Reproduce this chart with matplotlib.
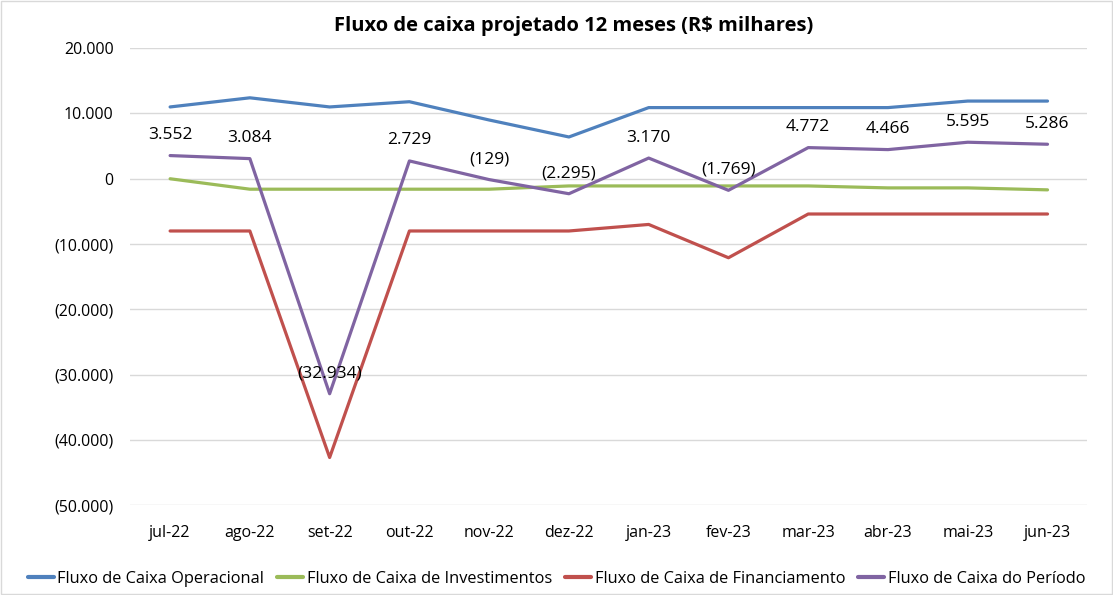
import matplotlib
matplotlib.use("Agg")
import matplotlib.pyplot as plt
from matplotlib.ticker import FuncFormatter

months = ["jul-22", "ago-22", "set-22", "out-22", "nov-22", "dez-22",
          "jan-23", "fev-23", "mar-23", "abr-23", "mai-23", "jun-23"]
operacional = [11.0, 12.4, 11.0, 11.8, 9.0, 6.4, 10.9, 10.9, 10.9, 10.9, 11.9, 11.9]
investimentos = [0.0, -1.6, -1.6, -1.6, -1.6, -1.1, -1.1, -1.1, -1.1, -1.4, -1.4, -1.7]
financiamento = [-8.0, -8.0, -42.7, -8.0, -8.0, -8.0, -7.0, -12.1, -5.4, -5.4, -5.4, -5.4]
periodo = [3.552, 3.084, -32.934, 2.729, -0.129, -2.295, 3.170, -1.769, 4.772, 4.466, 5.595, 5.286]
period_labels = ["3.552", "3.084", "(32.934)", "2.729", "(129)", "(2.295)",
                 "3.170", "(1.769)", "4.772", "4.466", "5.595", "5.286"]
series_names = ["Fluxo de Caixa Operacional", "Fluxo de Caixa de Investimentos",
                "Fluxo de Caixa de Financiamento", "Fluxo de Caixa do Período"]
yticks = [20, 10, 0, -10, -20, -30, -40, -50]

colors = ["#4F81BD", "#9BBB59", "#C0504D", "#8064A2"]
plt.rcParams['font.family'] = ['Open Sans', 'DejaVu Sans']

fig = plt.figure(figsize=(11.13, 5.95), dpi=100)
ax = fig.add_axes([0.117, 0.151, 0.860, 0.768])

x = list(range(len(months)))
for data, c, name in zip([operacional, investimentos, financiamento, periodo], colors, series_names):
    ax.plot(x, data, color=c, lw=2.3, label=name, solid_capstyle='round', zorder=3)

for xi, v, lab in zip(x, periodo, period_labels):
    ax.annotate(lab, (xi, v), xytext=(0, 9), textcoords='offset points',
                ha='center', va='bottom', fontsize=12.5, color='black', zorder=4)

ax.set_xlim(-0.5, len(months) - 0.5)
ax.set_ylim(-50, 20)
ax.set_yticks(yticks)

def fmt(v, pos):
    v = int(round(v))
    if v == 0:
        return "0"
    s = f"{abs(v)}.000"
    return f"({s})" if v < 0 else s

ax.yaxis.set_major_formatter(FuncFormatter(fmt))
ax.set_xticks(x)
ax.set_xticklabels(months)
ax.tick_params(axis='both', length=0, labelsize=11.5, colors='black')
ax.tick_params(axis='x', pad=14)
ax.tick_params(axis='y', pad=12)
ax.grid(axis='y', color='#D9D9D9', lw=1)
ax.set_axisbelow(True)
for s in ax.spines.values():
    s.set_visible(False)

fig.text(0.515, 0.957, "Fluxo de caixa projetado 12 meses (R$ milhares)",
         ha='center', va='center', fontsize=14.5, fontweight='bold')

leg = fig.legend(loc='center', bbox_to_anchor=(0.5, 0.027), ncol=4, frameon=False,
                 fontsize=11.8, handlelength=1.6, handletextpad=0.2, columnspacing=0.8)
for l in leg.get_lines():
    l.set_linewidth(3)

border = plt.Rectangle((0.001, 0.001), 0.998, 0.997, transform=fig.transFigure,
                       fill=False, edgecolor='#D9D9D9', lw=1)
fig.patches.append(border)

fig.savefig("out.png", dpi=100)
